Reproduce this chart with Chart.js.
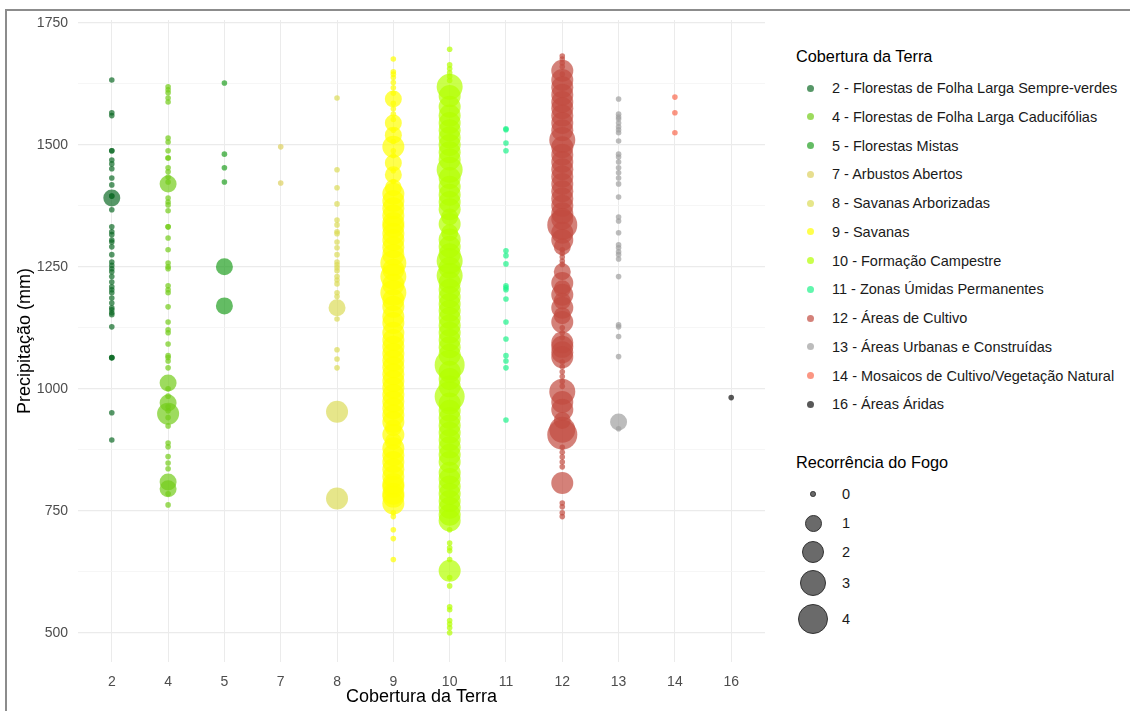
<!DOCTYPE html>
<html lang="pt">
<head>
<meta charset="UTF-8">
<title>Precipitação por Cobertura da Terra</title>
<script src="https://cdn.jsdelivr.net/npm/chart.js"></script>
<style>
  body { margin: 0; background: #fff; font-family: "Liberation Sans", Arial, sans-serif; }
  #wrap { position: relative; width: 1130px; height: 711px; overflow: hidden; background: #fff; }
  #frame { position: absolute; left: 5px; top: 9px; width: 1200px; height: 800px;
           border-left: 2px solid #8c8c8c; border-top: 2px solid #8c8c8c; pointer-events: none; }
  #chart { position: absolute; left: 0; top: 0; }
  .lg-title { position: absolute; left: 796px; font-size: 16.3px; color: #000; white-space: nowrap; }
  .lg-item { position: absolute; height: 20px; line-height: 20px; font-size: 14.5px; color: #1a1a1a; white-space: nowrap; }
  .lg-dot { position: absolute; border-radius: 50%; }
</style>
</head>
<body>
<div id="wrap">
  <canvas id="chart" width="780" height="711"></canvas>
  <div id="legend"></div>
  <div id="frame"></div>
</div>
<script>
  // categorias (eixo x) e nomes da legenda
  const categories = ['2', '4', '5', '7', '8', '9', '10', '11', '12', '13', '14', '16'];
  const coverNames = [
    '2 - Florestas de Folha Larga Sempre-verdes',
    '4 - Florestas de Folha Larga Caducifólias',
    '5 - Florestas Mistas',
    '7 - Arbustos Abertos',
    '8 - Savanas Arborizadas',
    '9 - Savanas',
    '10 - Formação Campestre',
    '11 - Zonas Úmidas Permanentes',
    '12 - Áreas de Cultivo',
    '13 - Áreas Urbanas e Construídas',
    '14 - Mosaicos de Cultivo/Vegetação Natural',
    '16 - Áreas Áridas'
  ];
  const fireLevels = ['0', '1', '2', '3', '4'];
  const yTicks = [500, 625, 750, 875, 1000, 1125, 1250, 1375, 1500, 1625, 1750];

  // [precipitação (mm), recorrência do fogo]
  const c2 = [[1633,0],[1566,0],[1560,0],[1488,0],[1488,0],[1469,0],[1461,0],[1451,0],[1432,0],[1418,0],
    [1391,1],[1395,0],[1395,0],[1367,0],[1332,0],[1322,0],[1316,0],[1305,0],[1301,0],[1291,0],[1275,0],
    [1260,0],[1253,0],[1246,0],[1240,0],[1230,0],[1219,0],[1209,0],[1203,0],[1197,0],[1186,0],[1176,0],
    [1166,0],[1162,0],[1156,0],[1152,0],[1127,0],[1063,0],[1064,0],[1064,0],[951,0],[895,0]];
  const c4 = [[1619,0],[1613,0],[1607,0],[1596,0],[1588,0],[1514,0],[1506,0],[1488,0],[1473,0],[1473,0],
    [1453,0],[1445,0],[1434,0],[1420,1],[1424,0],[1391,0],[1383,0],[1377,0],[1365,0],[1332,0],[1332,0],
    [1309,0],[1285,0],[1258,0],[1250,0],[1246,0],[1211,0],[1203,0],[1197,0],[1168,0],[1137,0],[1121,0],
    [1115,0],[1092,0],[1068,0],[1064,0],[1057,0],[1043,0],[1012,1],[1000,0],[985,0],[971,1],[963,0],
    [949,2],[955,0],[941,0],[924,0],[889,0],[881,0],[861,0],[848,0],[836,0],[809,1],[795,1],[785,0],[762,0]];
  const c5 = [[1627,0],[1481,0],[1453,0],[1424,0],[1250,1],[1170,1]];
  const c7 = [[1496,0],[1422,0]];
  const c8 = [[1596,0],[1449,0],[1412,0],[1379,0],[1346,0],[1336,0],[1322,0],[1318,0],[1301,0],[1289,0],
    [1275,0],[1260,0],[1254,0],[1248,0],[1242,0],[1230,0],[1223,0],[1215,0],[1197,0],[1189,0],[1166,1],
    [1143,0],[1080,0],[1061,0],[1043,0],[953,2],[775,2]];
  const c9 = [[1676,0],[1650,0],[1645,0],[1638,0],[1628,0],[1617,0],[1606,0],[1594,1],[1585,0],[1574,0],
    [1563,0],[1552,0],[1545,1],[1530,0],[1520,1],[1507,0],[1496,2],[1488,0],[1478,0],[1463,1],[1447,0],
    [1439,1],[1425,0],[1412,1],[1400,2],[1385,2],[1370,2],[1355,2],[1340,2],[1332,2],[1318,2],[1305,2],
    [1290,2],[1275,2],[1258,3],[1244,2],[1230,3],[1214,2],[1197,3],[1182,2],[1168,2],[1148,2],[1135,2],
    [1115,2],[1100,2],[1086,2],[1072,2],[1058,2],[1044,2],[1030,2],[1016,2],[1002,2],[988,2],[974,2],
    [960,2],[946,2],[932,2],[920,1],[906,2],[892,1],[878,2],[864,2],[850,2],[835,2],[820,2],[805,2],
    [799,2],[785,2],[779,2],[765,2],[746,0],[738,0],[711,0],[693,0],[650,0]];
  const c10 = [[1696,0],[1664,0],[1656,0],[1648,0],[1640,0],[1632,0],[1619,3],[1600,2],[1578,2],[1560,2],
    [1545,2],[1530,2],[1515,2],[1500,2],[1485,2],[1470,2],[1449,3],[1432,2],[1414,2],[1398,2],[1383,2],
    [1368,2],[1352,1],[1338,2],[1320,1],[1306,2],[1291,2],[1276,2],[1262,3],[1248,2],[1232,3],[1218,2],
    [1203,2],[1188,2],[1174,2],[1160,2],[1145,2],[1130,2],[1115,2],[1100,2],[1085,2],[1070,2],[1049,4],
    [1035,2],[1020,2],[1005,2],[984,4],[970,2],[955,2],[940,2],[925,2],[910,2],[895,2],[880,2],[865,2],
    [850,2],[828,2],[815,2],[800,2],[785,2],[770,2],[756,2],[742,2],[730,2],[711,0],[684,0],[674,0],
    [668,0],[650,0],[627,2],[613,0],[596,0],[553,0],[547,0],[525,0],[518,0],[510,0],[500,0]];
  const c11 = [[1531,0],[1533,0],[1504,0],[1488,0],[1283,0],[1273,0],[1256,0],[1211,0],[1207,0],[1203,0],
    [1184,0],[1137,0],[1102,0],[1068,0],[1057,0],[1043,0],[936,0]];
  const c12 = [[1682,0],[1676,0],[1668,0],[1660,0],[1645,0],[1652,2],[1633,2],[1618,2],[1603,2],[1588,2],
    [1575,2],[1560,2],[1545,2],[1530,2],[1510,3],[1495,2],[1480,2],[1465,2],[1450,2],[1435,2],[1420,2],
    [1405,2],[1390,2],[1375,2],[1360,2],[1348,2],[1336,4],[1320,2],[1305,2],[1291,1],[1285,0],[1278,0],
    [1270,0],[1262,0],[1255,0],[1240,1],[1217,2],[1205,1],[1193,2],[1180,1],[1166,2],[1150,1],[1137,2],
    [1125,0],[1115,0],[1105,0],[1095,2],[1086,2],[1075,2],[1065,2],[1055,0],[1045,0],[1035,0],[1025,0],
    [1015,0],[1005,0],[994,3],[973,2],[957,2],[935,1],[916,3],[906,4],[880,0],[870,0],[860,0],[850,0],
    [840,0],[807,2],[766,0],[758,0],[746,0],[738,0]];
  const c13 = [[1594,0],[1563,0],[1557,0],[1553,0],[1545,0],[1537,0],[1531,0],[1525,0],[1508,0],[1481,0],
    [1475,0],[1465,0],[1453,0],[1443,0],[1432,0],[1420,0],[1393,0],[1352,0],[1344,0],[1320,0],[1295,0],
    [1289,0],[1281,0],[1275,0],[1266,0],[1230,0],[1131,0],[1127,0],[1107,0],[1066,0],[932,1],[918,0]];
  const c14 = [[1598,0],[1566,0],[1525,0]];
  const c16 = [[982,0]];
  const series = [c2, c4, c5, c7, c8, c9, c10, c11, c12, c13, c14, c16];

  // estilos
  const colors = ['#0E6B26', '#73CC1A', '#22A022', '#DDD060', '#DCDC59', '#FFFF00',
                  '#B3FF00', '#1EF28A', '#C24C40', '#A0A0A0', '#FA6A4E', '#111111'];
  const alpha = 0.7;
  const fireRadius = [2.8, 8.5, 11, 13, 15];

  function rgba(hex, a) {
    const n = parseInt(hex.slice(1), 16);
    return `rgba(${(n >> 16) & 255},${(n >> 8) & 255},${n & 255},${a})`;
  }

  const datasets = series.map((pts, i) => ({
    label: coverNames[i],
    data: pts.map(p => ({ x: i, y: p[0], r: fireRadius[p[1]] })),
    backgroundColor: rgba(colors[i], alpha),
    borderWidth: 0,
    hoverRadius: 0
  }));

  const tickFont = { family: '"Liberation Sans", Arial, sans-serif', size: 14 };
  const titleFont = { family: '"Liberation Sans", Arial, sans-serif', size: 18 };

  new Chart(document.getElementById('chart'), {
    type: 'bubble',
    data: { datasets },
    options: {
      responsive: false,
      animation: false,
      events: [],
      layout: { padding: { left: 0, top: 20, right: 12, bottom: 0 } },
      plugins: { legend: { display: false }, tooltip: { enabled: false } },
      scales: {
        x: {
          type: 'linear',
          min: -0.6,
          max: categories.length - 0.4,
          afterBuildTicks: s => { s.ticks = categories.map((c, i) => ({ value: i })); },
          afterFit: s => { s.height = 49; },
          ticks: { callback: v => categories[v], color: '#4d4d4d', font: tickFont, padding: 12, autoSkip: false, maxRotation: 0 },
          grid: { color: '#ebebeb', drawTicks: false },
          border: { display: false },
          title: { display: true, text: 'Cobertura da Terra', color: '#000', font: titleFont, padding: { top: 0, bottom: 3 } }
        },
        y: {
          min: 440,
          max: 1756,
          afterBuildTicks: s => { s.ticks = yTicks.map(v => ({ value: v })); },
          afterFit: s => { s.width = 78; },
          ticks: {
            callback: v => (v % 250 === 0 ? String(v) : ''),
            color: '#4d4d4d', font: tickFont, padding: 10, autoSkip: false
          },
          grid: {
            color: c => (c.tick && c.tick.value % 250 === 0 ? '#ebebeb' : '#f4f4f4'),
            lineWidth: c => (c.tick && c.tick.value % 250 === 0 ? 1.2 : 0.8),
            drawTicks: false
          },
          border: { display: false },
          title: { display: true, text: 'Precipitação (mm)', color: '#000', font: titleFont, padding: { top: 14, bottom: 0 } }
        }
      }
    }
  });

  // legendas em HTML
  const legend = document.getElementById('legend');
  function add(html, cls, left, top) {
    const d = document.createElement('div');
    d.className = cls;
    d.style.left = left + 'px';
    d.style.top = top + 'px';
    d.innerHTML = html;
    legend.appendChild(d);
    return d;
  }
  add('Cobertura da Terra', 'lg-title', 796, 47);
  coverNames.forEach((name, i) => {
    const cy = 88 + i * 28.75;
    const dot = add('', 'lg-dot', 806.5, cy - 3.5);
    dot.style.width = dot.style.height = '7px';
    dot.style.background = rgba(colors[i], alpha);
    add(name, 'lg-item', 832, cy - 10);
  });

  add('Recorrência do Fogo', 'lg-title', 796, 453);
  const sizeY = [494, 523, 552, 583, 619];
  fireLevels.forEach((lv, i) => {
    const r = fireRadius[i];
    const dot = add('', 'lg-dot', 813 - r, sizeY[i] - r);
    dot.style.width = dot.style.height = (2 * r) + 'px';
    dot.style.boxSizing = 'border-box';
    dot.style.background = 'rgba(80,80,80,0.85)';
    dot.style.border = '1px solid #333';
    add(lv, 'lg-item', 842, sizeY[i] - 10);
  });
</script>
</body>
</html>
